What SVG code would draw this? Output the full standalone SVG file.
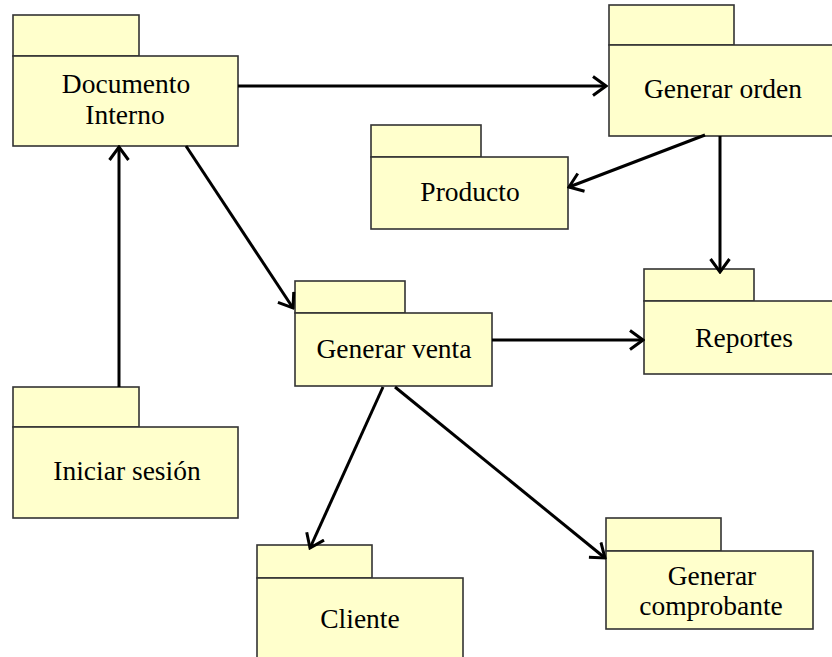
<svg xmlns="http://www.w3.org/2000/svg" width="832" height="657" viewBox="0 0 832 657">
<style>
.pkg rect{fill:#FFFFCC;stroke:#333;stroke-width:1.6}
.lbl{font-family:"Liberation Serif","Times New Roman",serif;font-size:27.5px;fill:#000;text-anchor:middle}
.con line{stroke:#000;stroke-width:3;fill:none;marker-end:url(#arr)}
</style>
<defs>
<marker id="arr" markerUnits="userSpaceOnUse" viewBox="0 0 16 22" refX="14" refY="11" markerWidth="16" markerHeight="22" orient="auto">
<path d="M1,1.5 L14,11 L1,20.5" fill="none" stroke="#000" stroke-width="3"/>
</marker>
</defs>
<rect width="832" height="657" fill="#fff"/>
<g id="documento-interno" class="pkg">
<rect x="13" y="15" width="126" height="41"/>
<rect x="13" y="56" width="225" height="90"/>
<text class="lbl" x="126" y="93">Documento</text>
<text class="lbl" x="125" y="124">Interno</text>
</g>
<g id="generar-orden" class="pkg">
<rect x="609" y="5" width="125" height="40"/>
<rect x="609" y="45" width="230" height="91"/>
<text class="lbl" x="723" y="98">Generar orden</text>
</g>
<g id="producto" class="pkg">
<rect x="371" y="125" width="110" height="32"/>
<rect x="371" y="157" width="197" height="72"/>
<text class="lbl" x="470" y="201">Producto</text>
</g>
<g id="reportes" class="pkg">
<rect x="644" y="269" width="110" height="32"/>
<rect x="644" y="301" width="200" height="73"/>
<text class="lbl" x="744" y="347">Reportes</text>
</g>
<g id="generar-venta" class="pkg">
<rect x="295" y="281" width="110" height="32"/>
<rect x="295" y="313" width="197" height="73"/>
<text class="lbl" x="394" y="358">Generar venta</text>
</g>
<g id="iniciar-sesion" class="pkg">
<rect x="13" y="387" width="126" height="40"/>
<rect x="13" y="427" width="225" height="91"/>
<text class="lbl" x="127" y="480">Iniciar sesión</text>
</g>
<g id="cliente" class="pkg">
<rect x="257" y="545" width="115" height="33"/>
<rect x="257" y="578" width="206" height="85"/>
<text class="lbl" x="360" y="628">Cliente</text>
</g>
<g id="generar-comprobante" class="pkg">
<rect x="606" y="518" width="115" height="33"/>
<rect x="606" y="551" width="207" height="78"/>
<text class="lbl" x="712" y="585">Generar</text>
<text class="lbl" x="711" y="615">comprobante</text>
</g>
<g id="connectors" class="con">
<line x1="238" y1="86" x2="606" y2="86"/>
<line x1="705" y1="135" x2="569" y2="187"/>
<line x1="720" y1="136" x2="720" y2="272"/>
<line x1="186" y1="146" x2="293" y2="308"/>
<line x1="119" y1="387" x2="119" y2="147"/>
<line x1="492" y1="340" x2="643" y2="340"/>
<line x1="383" y1="387" x2="310" y2="548"/>
<line x1="395" y1="387" x2="605" y2="558"/>
</g>
</svg>
